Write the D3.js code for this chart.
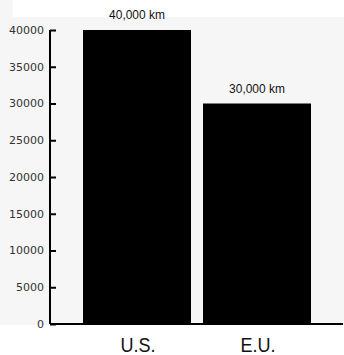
<!DOCTYPE html>
<html><head><meta charset="utf-8">
<script src="https://cdn.jsdelivr.net/npm/d3@7"></script>
<style>body{margin:0;background:#fff}svg{display:block}</style>
</head><body>
<svg id="c" width="344" height="355"></svg>
<script>
const categories = ["U.S.", "E.U."];
const values = [40000, 30000];
const valueLabels = ["40,000 km", "30,000 km"];
const yTicks = [0, 5000, 10000, 15000, 20000, 25000, 30000, 35000, 40000];

const svg = d3.select("#c");
// background panels
svg.append("rect").attr("x",0).attr("y",0).attr("width",344).attr("height",355).attr("fill","#fff");
svg.append("rect").attr("x",0).attr("y",17).attr("width",344).attr("height",308).attr("fill","#f6f6f6");
svg.append("rect").attr("x",0).attr("y",0).attr("width",13).attr("height",17).attr("fill","#f6f6f6");

const x = d3.scaleBand().domain(categories).range([83, 311]).paddingInner(0.1).paddingOuter(0);
const y = d3.scaleLinear().domain([0, 40000]).range([324, 30]);

// bars
svg.selectAll("rect.bar").data(categories).join("rect").attr("class","bar")
  .attr("x", d => x(d)).attr("width", x.bandwidth())
  .attr("y", (d,i) => y(values[i])).attr("height", (d,i) => y(0) - y(values[i]))
  .attr("fill", "#000");

// y axis
const yAxis = svg.append("g").attr("transform","translate(50,0)")
  .call(d3.axisRight(y).tickValues(yTicks).tickSize(6).tickFormat(""));
yAxis.select(".domain").attr("d", `M0,${y(40000)}V${y(0)}`).attr("stroke","#000").attr("stroke-width",2);
yAxis.selectAll(".tick line").attr("stroke","#000").attr("stroke-width",2);
svg.append("g").selectAll("text").data(yTicks).join("text")
  .attr("x", 44).attr("y", d => y(d)).attr("dy","0.35em").attr("text-anchor","end")
  .attr("font-family","DejaVu Sans").attr("font-size",11).attr("fill","#333")
  .text(d => d);

// baseline
svg.append("line").attr("x1",50).attr("x2",343).attr("y1",y(0)).attr("y2",y(0))
  .attr("stroke","#000").attr("stroke-width",2);

// value labels
svg.append("g").selectAll("text").data(categories).join("text")
  .attr("transform", (d,i) => `translate(${x(d) + x.bandwidth()/2},${y(values[i]) - 11}) scale(0.92,1)`)
  .attr("text-anchor","middle").attr("font-family","Liberation Sans").attr("font-size",13).attr("fill","#111")
  .text((d,i) => valueLabels[i]);

// category labels
svg.append("g").selectAll("text").data(categories).join("text")
  .attr("transform", d => `translate(${x(d) + x.bandwidth()/2 + 1},351.5) scale(0.86,1)`)
  .attr("text-anchor","middle").attr("font-family","Liberation Sans").attr("font-size",21).attr("fill","#111")
  .text(d => d);
</script>
</body></html>
